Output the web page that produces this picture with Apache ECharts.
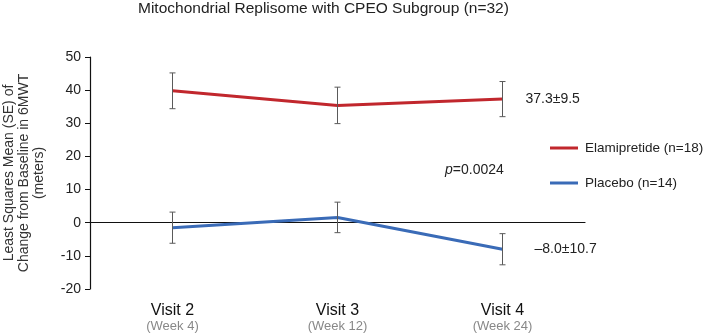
<!DOCTYPE html>
<html>
<head>
<meta charset="utf-8">
<script src="https://cdn.jsdelivr.net/npm/echarts@6/dist/echarts.min.js"></script>
<style>html,body{margin:0;padding:0;background:#fff}#c{width:708px;height:333px}</style>
</head>
<body>
<div id="c"></div>
<script>
const visits = ['Visit 2', 'Visit 3', 'Visit 4'];
const weeks = ['(Week 4)', '(Week 12)', '(Week 24)'];
const elamiMean = [39.8, 35.4, 37.3];
const elamiSE = [5.4, 5.5, 5.3];
const placeboMean = [-1.5, 1.6, -8.0];
const placeboSE = [4.7, 4.6, 4.7];
const elamiName = 'Elamipretide (n=18)';
const placeboName = 'Placebo (n=14)';
const elamiEndLabel = '37.3±9.5';
const placeboEndLabel = '–8.0±10.7';
const pValueText = '0.0024';
const titleText = 'Mitochondrial Replisome with CPEO Subgroup (n=32)';
const yTitle = 'Least Squares Mean (SE) of\nChange from Baseline in 6MWT\n(meters)';

const FONT = 'Liberation Sans, Arial, sans-serif';
const RED = '#c1272d';
const BLUE = '#3a6bb7';

function errData(means, ses) {
  return means.map((m, i) => [i, m - ses[i], m + ses[i]]);
}
function errRender(params, api) {
  const x = api.value(0);
  const lo = api.coord([x, api.value(1)]);
  const hi = api.coord([x, api.value(2)]);
  const cap = 3;
  const st = { stroke: '#5a5a5a', lineWidth: 1 };
  return {
    type: 'group',
    children: [
      { type: 'line', shape: { x1: lo[0], y1: lo[1], x2: hi[0], y2: hi[1] }, style: st },
      { type: 'line', shape: { x1: lo[0] - cap, y1: lo[1], x2: lo[0] + cap, y2: lo[1] }, style: st },
      { type: 'line', shape: { x1: hi[0] - cap, y1: hi[1], x2: hi[0] + cap, y2: hi[1] }, style: st }
    ]
  };
}

const chart = echarts.init(document.getElementById('c'));
chart.setOption({
  backgroundColor: '#fff',
  animation: false,
  title: {
    text: titleText, left: 133, top: 0, padding: [1, 5, 5, 5],
    textStyle: { fontSize: 15.5, fontWeight: 'normal', color: '#222', fontFamily: FONT }
  },
  legend: {
    orient: 'vertical', left: 550, top: 141, itemGap: 21, padding: 0,
    itemWidth: 28, itemHeight: 3, icon: 'rect',
    data: [elamiName, placeboName],
    textStyle: { fontSize: 13.5, color: '#222', fontFamily: FONT, padding: [0, 0, 0, 2] }
  },
  grid: { left: 90, right: 123, top: 57, bottom: 44, containLabel: false, outerBoundsMode: 'none' },
  xAxis: [
    {
      type: 'category', data: visits, position: 'bottom',
      axisLine: { show: false, onZero: false }, axisTick: { show: false },
      axisLabel: {
        margin: 13,
        formatter: (v, i) => '{v|' + v + '}\n{w|(' + weeks[i].slice(1, -1) + ')}',
        rich: {
          v: { fontSize: 16, color: '#111', fontFamily: FONT, lineHeight: 17 },
          w: { fontSize: 13, color: '#888', fontFamily: FONT, lineHeight: 14 }
        }
      }
    },
    {
      type: 'category', data: visits, position: 'top',
      axisLine: { show: true, onZero: true, lineStyle: { color: '#111', width: 1.2 } },
      axisTick: { show: false }, axisLabel: { show: false }
    }
  ],
  yAxis: {
    type: 'value', min: -20, max: 50, interval: 10,
    name: yTitle, nameLocation: 'middle', nameRotate: 90, nameGap: 43,
    nameTextStyle: { fontSize: 14, color: '#333', fontFamily: FONT, lineHeight: 15, align: 'center' },
    axisLine: { show: true, lineStyle: { color: '#111', width: 1.2 } },
    axisTick: { show: true, length: 5, lineStyle: { color: '#111' } },
    axisLabel: { fontSize: 14, color: '#222', fontFamily: FONT, margin: 9 },
    splitLine: { show: false }
  },
  graphic: [
    {
      type: 'text', left: 445, top: 163,
      style: {
        text: '{i|p}{n|=' + pValueText + '}',
        rich: {
          i: { fontSize: 14, fontStyle: 'italic', fontFamily: FONT, fill: '#222' },
          n: { fontSize: 14, fontFamily: FONT, fill: '#222' }
        }
      }
    }
  ],
  series: [
    {
      name: elamiName, type: 'line', data: elamiMean,
      symbol: 'none', lineStyle: { color: RED, width: 3 }, itemStyle: { color: RED }, z: 3,
      endLabel: { show: true, formatter: elamiEndLabel, distance: 23, color: '#222', fontSize: 14, fontFamily: FONT }
    },
    {
      name: placeboName, type: 'line', data: placeboMean,
      symbol: 'none', lineStyle: { color: BLUE, width: 3 }, itemStyle: { color: BLUE }, z: 3,
      endLabel: { show: true, formatter: placeboEndLabel, distance: 32, color: '#222', fontSize: 14, fontFamily: FONT }
    },
    { type: 'custom', renderItem: errRender, data: errData(elamiMean, elamiSE), z: 4, silent: true },
    { type: 'custom', renderItem: errRender, data: errData(placeboMean, placeboSE), z: 4, silent: true }
  ]
});
</script>
</body>
</html>
